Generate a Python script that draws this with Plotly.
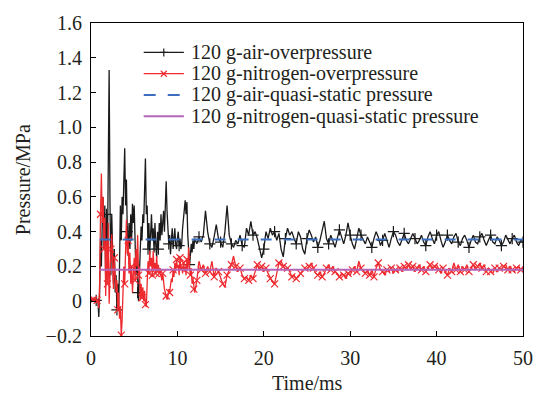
import numpy as np
import plotly.graph_objects as go

# ---------------- data ----------------
t_early = np.round(np.arange(0, 12.0, 0.1), 2)          # 0.0 ... 11.9 ms
t_late = np.round(np.arange(12.0, 50.001, 0.25), 2)     # 12.0 ... 50.0 ms
time_ms = np.concatenate([t_early, t_late])

air_early = [
    0.010, 0.012, 0.008, 0.010, 0.015, 0.010, 0.005, 0.010, 0.012, -0.090,
    0.050, 0.350, 0.200, 0.450, 0.600, 0.300, 0.550, 0.100, 0.500, 0.250,
    0.700, 1.330, 0.550, 0.150, 0.500, 0.300, 0.100, 0.300, 0.050, 0.150,
    -0.050, 0.100, -0.020, 0.200, 0.550, 0.350, 0.600, 0.500, 0.700, 0.880,
    0.550, 0.700, 0.400, 0.260, 0.450, 0.300, 0.500, 0.350, 0.560, 0.450,
    0.550, 0.300, 0.150, 0.250, 0.050, 0.000, 0.150, 0.300, 0.430, 0.350,
    0.500, 0.450, 0.650, 0.820, 0.500, 0.550, 0.300, 0.450, 0.270, 0.380,
    0.500, 0.350, 0.420, 0.280, 0.450, 0.320, 0.250, 0.400, 0.300, 0.450,
    0.350, 0.500, 0.380, 0.450, 0.520, 0.400, 0.550, 0.690, 0.520, 0.400,
    0.330, 0.380, 0.270, 0.350, 0.420, 0.300, 0.380, 0.420, 0.330, 0.300,
    0.360, 0.400, 0.320, 0.360, 0.300, 0.330, 0.420, 0.480, 0.550, 0.580,
    0.500, 0.570, 0.380, 0.300, 0.210, 0.260, 0.330, 0.280, 0.350, 0.300,
]
air_late = [
    0.36, 0.33, 0.37, 0.34,   0.38, 0.52, 0.40, 0.33,   0.31, 0.37, 0.44, 0.36,
    0.34, 0.31, 0.40, 0.55,   0.38, 0.33, 0.31, 0.35,   0.33, 0.38, 0.32, 0.31,
    0.42, 0.38, 0.46, 0.38,   0.40, 0.36, 0.30, 0.25,   0.30, 0.40, 0.36, 0.42,
    0.38, 0.40, 0.35, 0.39,   0.30, 0.255, 0.36, 0.42,  0.38, 0.40, 0.36, 0.33,
    0.40, 0.37, 0.30, 0.27,   0.36, 0.41, 0.38, 0.34,   0.37, 0.31, 0.35, 0.40,
    0.46, 0.36, 0.33, 0.38,   0.34, 0.31, 0.36, 0.41,   0.37, 0.33, 0.38, 0.45,
    0.38, 0.33, 0.30, 0.36,   0.42, 0.38, 0.35, 0.33,   0.37, 0.34, 0.31, 0.36,
    0.40, 0.37, 0.32, 0.35,   0.39, 0.35, 0.31, 0.36,   0.40, 0.38, 0.34, 0.32,
    0.36, 0.39, 0.35, 0.33,   0.36, 0.39, 0.36, 0.33,   0.35, 0.38, 0.34, 0.32,
    0.37, 0.40, 0.36, 0.33,   0.38, 0.40, 0.35, 0.31,   0.34, 0.38, 0.35, 0.33,
    0.37, 0.39, 0.34, 0.32,   0.36, 0.38, 0.35, 0.31,   0.35, 0.38, 0.34, 0.33,
    0.37, 0.39, 0.35, 0.32,   0.35, 0.38, 0.34, 0.33,   0.37, 0.35, 0.32, 0.34,
    0.38, 0.35, 0.33, 0.36,   0.38, 0.34, 0.32, 0.35,   0.34,
]

n2_early = [
    0.010, 0.015, 0.005, 0.010, 0.012, 0.008, 0.010, 0.005, 0.000, -0.040,
    0.100, 0.500, 0.735, 0.450, 0.600, 0.300, 0.480, 0.030, 0.350, 0.100,
    0.450, -0.015, 0.200, 0.300, 0.385, 0.200, 0.070, 0.250, 0.120, 0.050,
    0.120, -0.050, 0.050, -0.100, -0.030, -0.195, -0.110, 0.050, 0.200, 0.100,
    0.300, 0.470, 0.270, 0.350, 0.160, 0.280, 0.100, 0.200, 0.050, 0.150,
    0.250, 0.120, 0.300, 0.200, 0.380, 0.150, 0.200, 0.005, 0.100, 0.020,
    0.080, 0.000, 0.060, -0.020, -0.033, 0.100, 0.230, 0.160, 0.290, 0.200,
    0.250, 0.150, 0.290, 0.180, 0.220, 0.160, 0.260, 0.170, 0.210, 0.160,
    0.190, 0.150, 0.120, 0.160, 0.100, 0.070, 0.050, 0.030, 0.010, 0.030,
    0.070, 0.050, 0.100, 0.130, 0.110, 0.180, 0.140, 0.220, 0.170, 0.240,
    0.190, 0.210, 0.150, 0.250, 0.180, 0.200, 0.160, 0.220, 0.170, 0.200,
    0.150, 0.240, 0.180, 0.310, 0.200, 0.150, 0.190, 0.100, 0.130, 0.070,
]
n2_late = [
    0.05, 0.12, 0.23, 0.18,   0.21, 0.16, 0.20, 0.17,   0.23, 0.14, 0.19, 0.17,
    0.13, 0.10, 0.08, 0.15,   0.18, 0.21, 0.26, 0.20,   0.17, 0.19, 0.15, 0.13,
    0.14, 0.12, 0.15, 0.13,   0.17, 0.21, 0.18, 0.20,   0.17, 0.19, 0.16, 0.13,
    0.11, 0.10, 0.16, 0.22,   0.23, 0.20, 0.18, 0.19,   0.17, 0.14, 0.15, 0.13,
    0.14, 0.16, 0.17, 0.19,   0.18, 0.20, 0.22, 0.19,   0.16, 0.15, 0.17, 0.14,
    0.16, 0.19, 0.21, 0.18,   0.20, 0.17, 0.16, 0.14,   0.16, 0.15, 0.13, 0.16,
    0.15, 0.18, 0.20, 0.17,   0.23, 0.19, 0.17, 0.16,   0.18, 0.15, 0.18, 0.14,
    0.19, 0.22, 0.18, 0.17,   0.15, 0.18, 0.17, 0.19,   0.16, 0.18, 0.17, 0.19,
    0.17, 0.20, 0.18, 0.21,   0.18, 0.20, 0.17, 0.19,   0.21, 0.18, 0.20, 0.17,
    0.19, 0.21, 0.18, 0.20,   0.21, 0.18, 0.16, 0.19,   0.17, 0.15, 0.19, 0.17,
    0.22, 0.18, 0.21, 0.17,   0.20, 0.18, 0.21, 0.17,   0.19, 0.21, 0.18, 0.20,
    0.22, 0.19, 0.21, 0.17,   0.19, 0.17, 0.16, 0.19,   0.17, 0.19, 0.18, 0.20,
    0.21, 0.18, 0.20, 0.18,   0.17, 0.19, 0.20, 0.18,   0.20,
]

air_pressure = np.array(air_early + air_late)
n2_pressure = np.array(n2_early + n2_late)

qs_time = [1.0, 50.0]
air_qs = [0.355, 0.355]
n2_qs = [0.181, 0.181]

legend_names = [
    "120 g-air-overpressure",
    "120 g-nitrogen-overpressure",
    "120 g-air-quasi-static pressure",
    "120 g-nitrogen-quasi-static pressure",
]
x_title = "Time/ms"
y_title = "Pressure/MPa"

x_ticks = [0, 10, 20, 30, 40, 50]
y_ticks = [-0.2, 0, 0.2, 0.4, 0.6, 0.8, 1.0, 1.2, 1.4, 1.6]
y_ticktext = ["\u22120.2", "0", "0.2", "0.4", "0.6", "0.8", "1.0", "1.2", "1.4", "1.6"]

# ---------------- styling ----------------
FONT = "Liberation Serif, Times New Roman, serif"
TXT = "#231f20"
BLACK = "#1a1a1a"
RED = "#ee2a2f"
BLUE = "#3d6fc0"
PURPLE = "#b466b8"

n_e = len(t_early)
air_mark_idx = list(range(6, n_e, 12)) + list(range(n_e + 2, len(time_ms), 5))
n2_mark_idx = list(range(3, n_e, 4)) + list(range(n_e + 1, len(time_ms), 2))

fig = go.Figure()
fig.add_trace(go.Scatter(x=time_ms, y=air_pressure, mode="lines",
                         line=dict(color=BLACK, width=1.3), showlegend=False))
fig.add_trace(go.Scatter(x=time_ms[air_mark_idx], y=air_pressure[air_mark_idx], mode="markers",
                         marker=dict(symbol="cross-thin", size=8, line=dict(color=BLACK, width=1.2)),
                         showlegend=False))
fig.add_trace(go.Scatter(x=time_ms, y=n2_pressure, mode="lines",
                         line=dict(color=RED, width=1.3), showlegend=False))
fig.add_trace(go.Scatter(x=time_ms[n2_mark_idx], y=n2_pressure[n2_mark_idx], mode="markers",
                         marker=dict(symbol="x-thin", size=7, line=dict(color=RED, width=1.2)),
                         showlegend=False))
fig.add_trace(go.Scatter(x=qs_time, y=air_qs, mode="lines",
                         line=dict(color=BLUE, width=2, dash="11px,12px"), showlegend=False))
fig.add_trace(go.Scatter(x=qs_time, y=n2_qs, mode="lines",
                         line=dict(color=PURPLE, width=1.8), showlegend=False))

# ---------------- hand-placed legend (paper coordinates) ----------------
L_X0, L_X1, L_TX = 0.122, 0.215, 0.229
rows = [0.906, 0.838, 0.770, 0.702]
styles = [(BLACK, "solid", 1.3), (RED, "solid", 1.3), (BLUE, "12px,12px", 2), (PURPLE, "solid", 1.8)]
shapes = []
annotations = []
xc = (L_X0 + L_X1) / 2
for yr, (col, dsh, w), name in zip(rows, styles, legend_names):
    shapes.append(dict(type="line", xref="paper", yref="paper", x0=L_X0, x1=L_X1, y0=yr, y1=yr,
                       line=dict(color=col, width=w, dash=dsh)))
    annotations.append(dict(xref="paper", yref="paper", x=L_TX, y=yr, xanchor="left", yanchor="middle",
                            text=name, showarrow=False, borderpad=0,
                            font=dict(family=FONT, size=20, color=TXT)))
# legend markers: "+" for air, "x" for nitrogen
shapes.append(dict(type="line", xref="paper", yref="paper", xsizemode="pixel", ysizemode="pixel",
                   xanchor=xc, yanchor=rows[0], x0=-4, x1=4, y0=0, y1=0, line=dict(color=BLACK, width=1.2)))
shapes.append(dict(type="line", xref="paper", yref="paper", xsizemode="pixel", ysizemode="pixel",
                   xanchor=xc, yanchor=rows[0], x0=0, x1=0, y0=-4, y1=4, line=dict(color=BLACK, width=1.2)))
shapes.append(dict(type="line", xref="paper", yref="paper", xsizemode="pixel", ysizemode="pixel",
                   xanchor=xc, yanchor=rows[1], x0=-3, x1=3, y0=-3, y1=3, line=dict(color=RED, width=1.2)))
shapes.append(dict(type="line", xref="paper", yref="paper", xsizemode="pixel", ysizemode="pixel",
                   xanchor=xc, yanchor=rows[1], x0=-3, x1=3, y0=3, y1=-3, line=dict(color=RED, width=1.2)))

# axis titles as annotations for exact placement
annotations.append(dict(xref="paper", yref="paper", x=0.5, y=-0.149, xanchor="center", yanchor="middle",
                        text=x_title, showarrow=False, font=dict(family=FONT, size=20, color=TXT)))
annotations.append(dict(xref="paper", yref="paper", x=-0.158, y=0.5, xanchor="center", yanchor="middle",
                        text=y_title, textangle=-90, showarrow=False,
                        font=dict(family=FONT, size=20, color=TXT)))

axis_common = dict(showline=True, linecolor="black", linewidth=1.2, mirror=True,
                   ticks="inside", ticklen=5, tickwidth=1.1, tickcolor="black",
                   showgrid=False, zeroline=False,
                   tickfont=dict(family=FONT, size=20, color=TXT))

fig.update_layout(
    width=545, height=394,
    margin=dict(l=91, r=15, t=20, b=58),
    paper_bgcolor="white", plot_bgcolor="white",
    showlegend=False,
    font=dict(family=FONT, size=20, color=TXT),
    xaxis=dict(range=[0, 50], tickvals=x_ticks, ticktext=[str(v) for v in x_ticks],
               ticklabelstandoff=4, **axis_common),
    yaxis=dict(range=[-0.2, 1.6], tickvals=y_ticks, ticktext=y_ticktext,
               ticklabelstandoff=4, **axis_common),
    shapes=shapes,
    annotations=annotations,
)

fig.write_html("out.html")
